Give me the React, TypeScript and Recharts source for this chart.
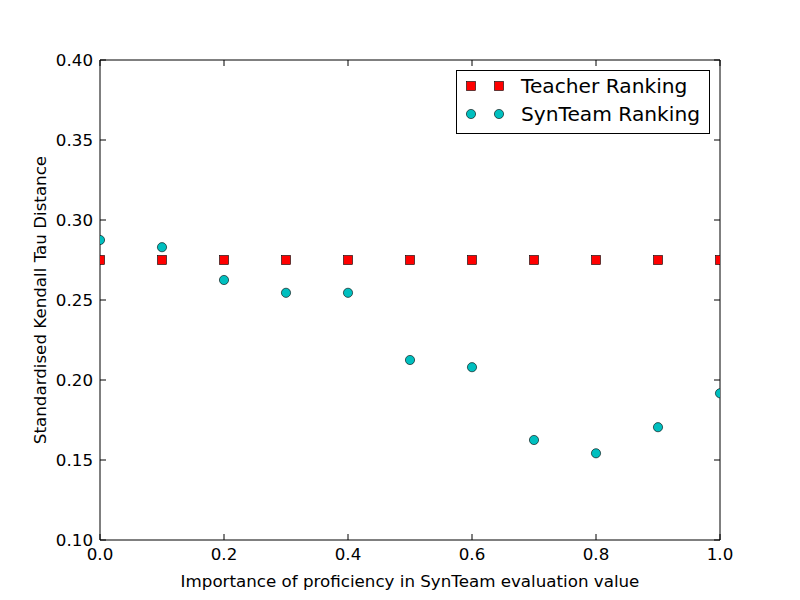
import { ScatterChart, Scatter, XAxis, YAxis, Legend } from "recharts";

const FONT = "'DejaVu Sans', sans-serif";

const proficiencyWeights = [0, 0.1, 0.2, 0.3, 0.4, 0.5, 0.6, 0.7, 0.8, 0.9, 1.0];
const teacherRanking = [0.275, 0.275, 0.275, 0.275, 0.275, 0.275, 0.275, 0.275, 0.275, 0.275, 0.275];
const synTeamRanking = [0.2875, 0.283, 0.2625, 0.2545, 0.2545, 0.2125, 0.208, 0.1625, 0.1542, 0.1705, 0.1917];

const xTicks = [0, 0.2, 0.4, 0.6, 0.8, 1.0];
const yTicks = [0.1, 0.15, 0.2, 0.25, 0.3, 0.35, 0.4];

const RED = "#ff0000";
const CYAN = "#00bfbf";

// plot box edges (matplotlib default subplot params at 800x600)
const PLOT = { left: 100, top: 60, right: 720, bottom: 540 };
const TICK_LEN = 6;
const FS = 16.7;

const teacherData = proficiencyWeights.map((x, i) => ({ x, y: teacherRanking[i] }));
const synTeamData = proficiencyWeights.map((x, i) => ({ x, y: synTeamRanking[i] }));

function PlotClip({ id, children }: { id: string; children: any }) {
  return (
    <g>
      <defs>
        <clipPath id={id}>
          <rect x={PLOT.left} y={PLOT.top} width={PLOT.right - PLOT.left} height={PLOT.bottom - PLOT.top} />
        </clipPath>
      </defs>
      <g clipPath={`url(#${id})`}>{children}</g>
    </g>
  );
}

function SquareMark({ cx, cy }: any) {
  return <rect x={cx - 4.5} y={cy - 4.5} width={9} height={9} fill={RED} stroke="#000" strokeWidth={0.6} />;
}

function DotMark({ cx, cy }: any) {
  return <circle cx={cx} cy={cy} r={4.6} fill={CYAN} stroke="#000" strokeWidth={0.6} />;
}

const teacherShape = (p: any) => (
  <PlotClip id={`clip-t-${p.index}`}>
    <SquareMark cx={p.cx} cy={p.cy} />
  </PlotClip>
);
const synTeamShape = (p: any) => (
  <PlotClip id={`clip-s-${p.index}`}>
    <DotMark cx={p.cx} cy={p.cy} />
  </PlotClip>
);

const BOTTOM_GAP = 8;
const LEFT_GAP = 7;

function BottomTick({ x, y, payload }: any) {
  const y0 = y - BOTTOM_GAP;
  return (
    <g>
      <line x1={x} x2={x} y1={y0} y2={y0 - TICK_LEN} stroke="#000" />
      <text x={x} y={y} dy="0.71em" textAnchor="middle" fontSize={FS} fontFamily={FONT} fill="#000">
        {payload.value.toFixed(1)}
      </text>
    </g>
  );
}

function TopTick({ x, y }: any) {
  return <line x1={x} x2={x} y1={y} y2={y + TICK_LEN} stroke="#000" />;
}

function LeftTick({ x, y, payload }: any) {
  const x0 = x + LEFT_GAP;
  return (
    <g>
      <line x1={x0} x2={x0 + TICK_LEN} y1={y} y2={y} stroke="#000" />
      <text x={x} y={y} dy="0.35em" textAnchor="end" fontSize={FS} fontFamily={FONT} fill="#000">
        {payload.value.toFixed(2)}
      </text>
    </g>
  );
}

function RightTick({ x, y }: any) {
  return <line x1={x} x2={x - TICK_LEN} y1={y} y2={y} stroke="#000" />;
}

function LegendBox() {
  const rows = [
    { label: "Teacher Ranking", Mark: SquareMark, y: 16 },
    { label: "SynTeam Ranking", Mark: DotMark, y: 44 },
  ];
  return (
    <svg width={254} height={64} style={{ display: "block" }}>
      <rect x={0.5} y={0.5} width={253} height={63} fill="#fff" stroke="#000" strokeWidth={1} />
      {rows.map((r) => (
        <g key={r.label}>
          <r.Mark cx={15} cy={r.y} />
          <r.Mark cx={43} cy={r.y} />
          <text x={65} y={r.y} dy="0.35em" fontSize={20.2} fontFamily={FONT} fill="#000">
            {r.label}
          </text>
        </g>
      ))}
    </svg>
  );
}

export default function App() {
  return (
    <div style={{ position: "absolute", left: 0, top: 0, width: 800, height: 600, background: "#fff" }}>
      <ScatterChart width={800} height={600} margin={{ top: PLOT.top - 1, right: 800 - PLOT.right - 1, bottom: 0, left: 0 }}>
        <XAxis
          xAxisId="bottom"
          type="number"
          dataKey="x"
          domain={[0, 1]}
          ticks={xTicks}
          allowDataOverflow
          height={600 - PLOT.bottom}
          tickSize={0}
          tickMargin={BOTTOM_GAP}
          tick={<BottomTick />}
          tickLine={false}
          axisLine={{ stroke: "#000" }}
          label={{ value: "Importance of proficiency in SynTeam evaluation value", position: "insideBottom", offset: 13, style: { fontSize: FS, fontFamily: FONT, fill: "#000" } }}
        />
        <XAxis
          xAxisId="top"
          orientation="top"
          type="number"
          dataKey="x"
          domain={[0, 1]}
          ticks={xTicks}
          allowDataOverflow
          height={1}
          tickSize={0}
          tickMargin={0}
          tick={<TopTick />}
          tickLine={false}
          axisLine={{ stroke: "#000" }}
        />
        <YAxis
          yAxisId="left"
          type="number"
          dataKey="y"
          domain={[0.1, 0.4]}
          ticks={yTicks}
          allowDataOverflow
          width={PLOT.left}
          tickSize={0}
          tickMargin={LEFT_GAP}
          tick={<LeftTick />}
          tickLine={false}
          axisLine={{ stroke: "#000" }}
          label={{ value: "Standardised Kendall Tau Distance", angle: -90, position: "insideLeft", offset: 40, style: { textAnchor: "middle", fontSize: FS, fontFamily: FONT, fill: "#000" } }}
        />
        <YAxis
          yAxisId="right"
          orientation="right"
          type="number"
          dataKey="y"
          domain={[0.1, 0.4]}
          ticks={yTicks}
          allowDataOverflow
          width={1}
          tickSize={0}
          tickMargin={0}
          tick={<RightTick />}
          tickLine={false}
          axisLine={{ stroke: "#000" }}
        />
        <Scatter name="Teacher Ranking" data={teacherData} xAxisId="bottom" yAxisId="left" shape={teacherShape} isAnimationActive={false} />
        <Scatter name="SynTeam Ranking" data={synTeamData} xAxisId="bottom" yAxisId="left" shape={synTeamShape} isAnimationActive={false} />
        <Scatter data={synTeamData} xAxisId="top" yAxisId="right" shape={() => <g />} legendType="none" isAnimationActive={false} />
        <Legend
          layout="horizontal"
          verticalAlign="middle"
          content={() => <LegendBox />}
          wrapperStyle={{ position: "absolute", left: 456, top: 70, width: 254, height: 64 }}
        />
      </ScatterChart>
    </div>
  );
}
